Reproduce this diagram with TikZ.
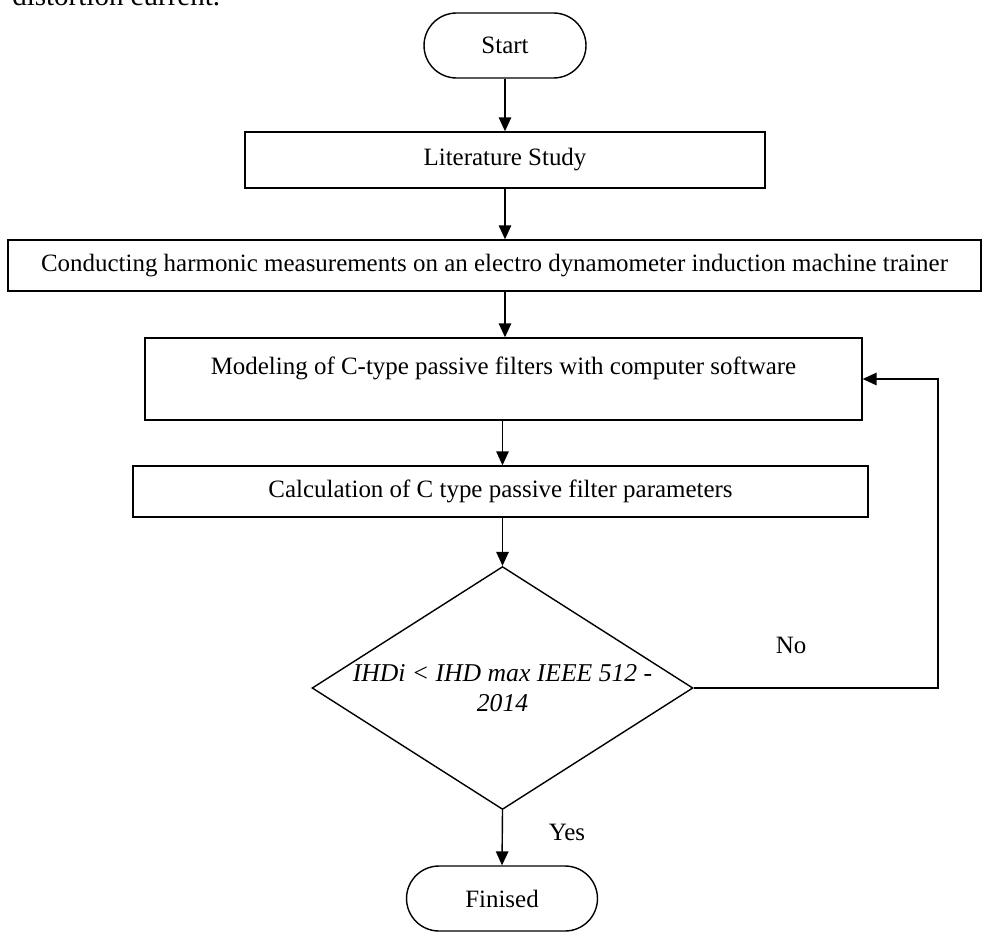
\documentclass[tikz,border=0pt]{standalone}
\usepackage{fontspec}
\setmainfont{Liberation Serif}
\usepackage{tikz}
\usetikzlibrary{shapes.geometric, arrows.meta}

\tikzset{
  base/.style={draw=black, line width=0.8pt, font=\fontsize{14.2}{17}\selectfont, inner sep=2pt},
  box/.style={base, rectangle},
  term/.style={base, rectangle, rounded corners=0.65cm, minimum width=3.24cm, minimum height=1.3cm},
  decision/.style={base, diamond, inner sep=0pt, shape aspect=1.568, minimum width=7.62cm, minimum height=4.86cm, align=center, font=\fontsize{14.6}{17.5}\selectfont\itshape},
  flow/.style={line width=0.8pt, -{Triangle[width=0.25cm,length=0.28cm]}},
  txt/.style={font=\fontsize{14.2}{17}\selectfont, inner sep=0pt}
}

\begin{document}
\begin{tikzpicture}[x=0.02cm, y=-0.02cm]
\useasboundingbox (0,0) rectangle (983,933);

% cut-off line of the page text above
\node[font=\fontsize{16.5}{20}\selectfont, inner sep=0pt, anchor=base west] (prev) at (12,6) {distortion current.};

\node[term] (start) at (505,45.5) {Start};
\node[box, minimum width=10.4cm, minimum height=1.12cm] (lit) at (505,160) {Literature Study};
\node[box, minimum width=19.46cm, minimum height=1.02cm] (meas) at (494.5,265.5) {Conducting harmonic measurements on an electro dynamometer induction machine trainer};
\node[box, minimum width=14.34cm, minimum height=1.64cm, text height=0.35cm, text depth=0.55cm] (model) at (503.5,379) {Modeling of C-type passive filters with computer software};
\node[box, minimum width=14.7cm, minimum height=1.02cm] (calc) at (500.5,491.5) {Calculation of C type passive filter parameters};
\node[decision] (check) at (502.5,688) {IHDi < IHD max IEEE 512 -\\2014};
\node[term, minimum width=3.82cm] (finish) at (502,898.5) {Finised};

\coordinate (back) at (938,688);

\draw[flow] (start.south) -- (start.south |- lit.north);
\draw[flow] (lit.south) -- (lit.south |- meas.north);
\draw[flow] (lit.south |- meas.south) -- (lit.south |- model.north);
\draw[flow] (check.north |- model.south) -- (check.north |- calc.north);
\draw[flow] (check.north |- calc.south) -- (check.north);
\draw[flow] (check.south) -- (finish.north);
\draw[flow] (check.east) -- (back) |- (model.east);

\node[txt] (yes) at (567,832) {Yes};
\node[txt] (no) at (791,645) {No};
\end{tikzpicture}
\end{document}
